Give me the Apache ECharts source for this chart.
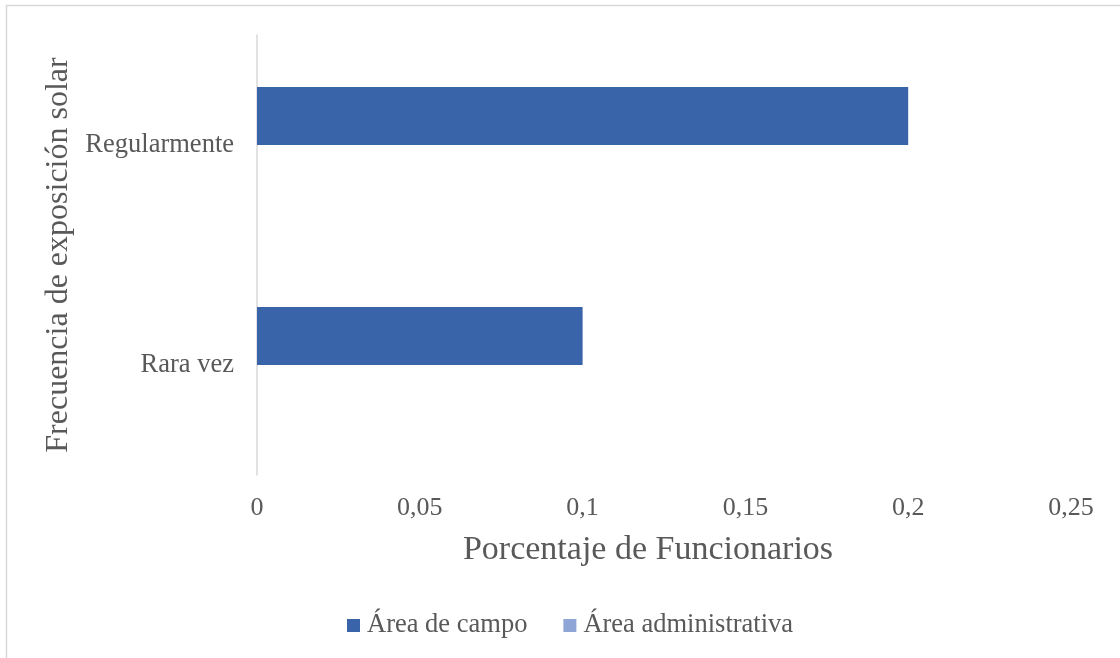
<!DOCTYPE html>
<html>
<head>
<meta charset="utf-8">
<script src="https://cdn.jsdelivr.net/npm/echarts@6/dist/echarts.min.js"></script>
<style>
  html, body { margin: 0; padding: 0; background: #ffffff; }
  #chart { width: 1120px; height: 658px; }
</style>
</head>
<body>
<div id="chart"></div>
<script>
// Frecuencia de exposición solar por área
const categories = ['Rara vez', 'Regularmente'];
const campoValues = [0.1, 0.2];
const administrativaValues = [0, 0];
const seriesNames = ['Área de campo', 'Área administrativa'];
const xTicks = [0, 0.05, 0.1, 0.15, 0.2, 0.25];

const textColor = '#595959';
const serif = '"Liberation Serif", "Times New Roman", serif';

const chart = echarts.init(document.getElementById('chart'), null, { renderer: 'canvas' });

chart.setOption({
  backgroundColor: '#ffffff',
  animation: false,
  textStyle: { fontFamily: serif, color: textColor },
  graphic: [{
    type: 'rect',
    shape: { x: 6.5, y: 5.5, width: 1130, height: 680 },
    style: { fill: 'none', stroke: '#d9d9d9', lineWidth: 1.5 },
    silent: true
  }],
  legend: {
    data: seriesNames,
    top: 612,
    left: 347,
    padding: 0,
    icon: 'rect',
    itemWidth: 13,
    itemHeight: 13,
    itemGap: 36,
    textStyle: { fontFamily: serif, fontSize: 26.5, color: textColor, padding: [0, 0, 0, 2] }
  },
  grid: { left: 257, right: 49, top: 35, bottom: 183, containLabel: false },
  xAxis: {
    type: 'value',
    min: xTicks[0],
    max: xTicks[xTicks.length - 1],
    interval: 0.05,
    name: 'Porcentaje de Funcionarios',
    nameLocation: 'middle',
    nameGap: 58,
    nameTextStyle: { fontFamily: serif, fontSize: 34, color: textColor, padding: [0, 32, 0, 0] },
    axisLine: { show: false },
    axisTick: { show: false },
    splitLine: { show: false },
    axisLabel: {
      margin: 20,
      fontFamily: serif,
      fontSize: 26,
      color: textColor,
      formatter: v => String(Math.round(v * 100) / 100).replace('.', ',')
    }
  },
  yAxis: {
    type: 'category',
    data: categories,
    name: 'Frecuencia de exposición solar',
    nameLocation: 'middle',
    nameGap: 180,
    nameTextStyle: { fontFamily: serif, fontSize: 32, color: textColor },
    axisLine: { show: true, lineStyle: { color: '#d9d9d9', width: 1.5 } },
    axisTick: { show: false },
    splitLine: { show: false },
    axisLabel: { margin: 23, fontFamily: serif, fontSize: 26.5, color: textColor }
  },
  series: [
    {
      name: seriesNames[0],
      type: 'bar',
      data: campoValues,
      barWidth: 58,
      barGap: '0%',
      itemStyle: { color: '#3a64aa' }
    },
    {
      name: seriesNames[1],
      type: 'bar',
      data: administrativaValues,
      barWidth: 58,
      barGap: '0%',
      itemStyle: { color: '#8fa5d5' }
    }
  ]
});
</script>
</body>
</html>
